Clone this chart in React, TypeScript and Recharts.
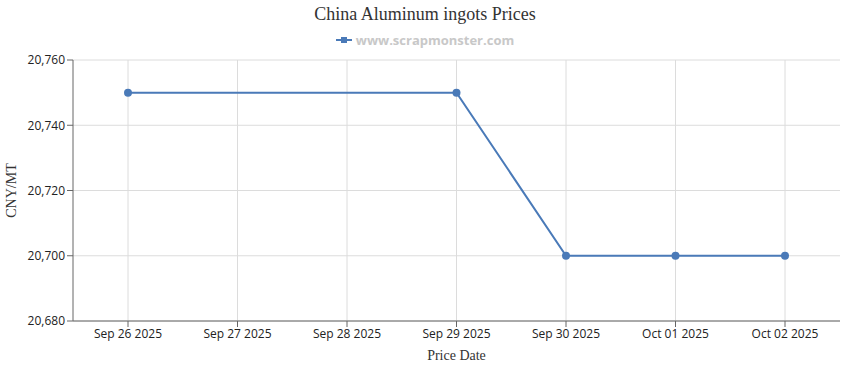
import { LineChart, Line, XAxis, YAxis, CartesianGrid } from 'recharts';

const dates = ['Sep 26 2025', 'Sep 27 2025', 'Sep 28 2025', 'Sep 29 2025', 'Sep 30 2025', 'Oct 01 2025', 'Oct 02 2025'];
const prices: (number | null)[] = [20750, null, null, 20750, 20700, 20700, 20700];
const yTicks = [20680, 20700, 20720, 20740, 20760];

const LINE = '#4a7ab8';
const tickStyle = { fontSize: 12, fill: '#222', fontFamily: '"Open Sans", "Noto Sans", sans-serif' };

const data = dates.map((d, i) => ({ date: d, price: prices[i] }));

export default function App() {
  return (
    <div style={{ position: 'absolute', left: 0, top: 0, width: 850, height: 370, background: '#fff' }}>
      <div
        style={{
          position: 'absolute',
          left: 0,
          top: 4,
          width: 850,
          textAlign: 'center',
          fontFamily: '"Liberation Serif", "Times New Roman", serif',
          fontSize: 18,
          color: '#333',
        }}
      >
        China Aluminum ingots Prices
      </div>
      <div
        style={{
          position: 'absolute',
          left: 0,
          top: 31,
          width: 850,
          display: 'flex',
          justifyContent: 'center',
          alignItems: 'center',
          fontFamily: '"Open Sans", "Noto Sans", sans-serif',
          fontWeight: 700,
          fontSize: 13,
          color: '#c8c8c8',
        }}
      >
        <svg width={16} height={10} style={{ marginRight: 4 }}>
          <line x1={0} y1={5} x2={16} y2={5} stroke={LINE} strokeWidth={2} />
          <rect x={5} y={2} width={6} height={6} fill={LINE} />
        </svg>
        www.scrapmonster.com
      </div>
      <LineChart width={850} height={370} data={data} margin={{ top: 60, right: 10, bottom: 19, left: 10 }}>
        <CartesianGrid stroke="#dcdcdc" syncWithTicks />
        <XAxis
          dataKey="date"
          tick={tickStyle}
          tickSize={6}
          stroke="#666"
          height={30}
          padding={{ left: 55, right: 55 }}
          label={{
            value: 'Price Date',
            position: 'insideBottom',
            offset: -9,
            style: { fontSize: 14, fill: '#333', fontFamily: '"Liberation Serif", serif' },
          }}
        />
        <YAxis
          domain={[20680, 20760]}
          ticks={yTicks}
          width={63}
          tick={tickStyle}
          tickSize={6}
          stroke="#666"
          tickFormatter={(v: number) => v.toLocaleString('en-US')}
          label={{
            value: 'CNY/MT',
            angle: -90,
            position: 'insideLeft',
            offset: 1,
            style: { fontSize: 14, fill: '#333', fontFamily: '"Liberation Serif", serif', textAnchor: 'middle' },
          }}
        />
        <Line
          type="linear"
          dataKey="price"
          stroke={LINE}
          strokeWidth={2}
          dot={{ r: 4, fill: LINE, stroke: LINE, strokeWidth: 0 }}
          connectNulls
          isAnimationActive={false}
        />
      </LineChart>
    </div>
  );
}
